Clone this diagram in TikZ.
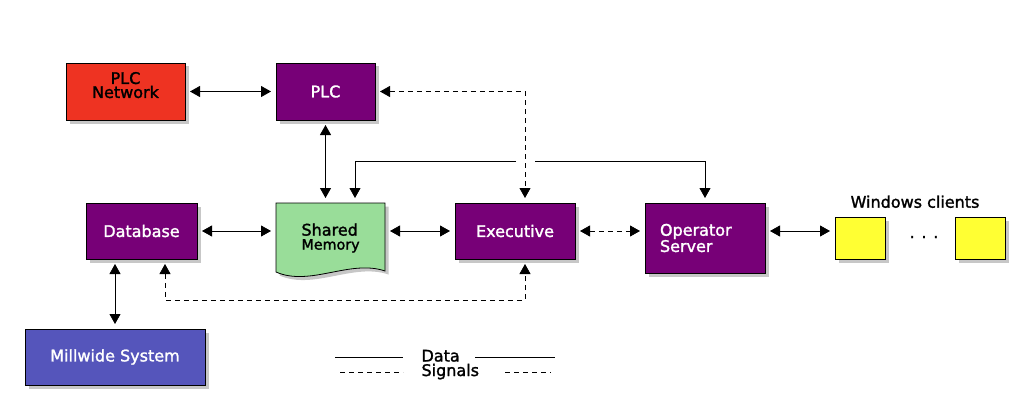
\documentclass[tikz,border=0pt]{standalone}
\usepackage{fontspec}
\setmainfont[FakeBold=1.6]{DejaVu Sans}
\usetikzlibrary{arrows.meta,shadows,calc}
\definecolor{cred}{HTML}{EE3322}
\definecolor{cpurple}{HTML}{770077}
\definecolor{cblue}{HTML}{5555BB}
\definecolor{cgreen}{HTML}{99DD99}
\definecolor{cyellow}{HTML}{FFFF33}
\begin{document}
\begin{tikzpicture}[x=1pt,y=-1pt,
  every node/.style={font=\fontsize{16}{14}\selectfont},
  shade/.style={drop shadow={shadow xshift=3.5pt,shadow yshift=-3.5pt,opacity=0.22,fill=black}},
  box/.style={draw=black,line width=0.8pt,inner sep=0pt,outer sep=0pt,shade,align=center},
  proc/.style={box,fill=cpurple,text=white},
  client/.style={box,fill=cyellow,minimum width=50pt,minimum height=42pt},
  tip/.tip={Triangle[length=10pt,width=11pt]},
  link/.style={line width=0.8pt,tip-tip,shorten <=5pt,shorten >=5pt},
  onelink/.style={line width=0.8pt,-tip,shorten >=5pt},
  sig/.style={dash pattern=on 5pt off 4pt},
  legend/.style={line width=0.8pt},
]
\useasboundingbox[fill=white] (0,0) rectangle (1030,420);

% Shared memory document shape
\def\smpath{(276,203) -- (385,203) -- (385,271) .. controls (350,259) and (310,287) .. (276,272) -- cycle}
\fill[black,opacity=0.22,shift={(3.5,3.5)}] \smpath;
\draw[line width=0.8pt,fill=cgreen] \smpath;

% nodes
\node[box,fill=cred,minimum width=119pt,minimum height=57pt,text depth=13pt] (plcnet) at (125.5,91.5) {PLC\\Network};
\node[proc,minimum width=99pt,minimum height=57pt] (plc) at (325.5,91.5) {PLC};
\node[proc,minimum width=111pt,minimum height=56pt] (db) at (141.5,231) {Database};
\node[inner sep=0pt,outer sep=0pt,minimum width=109pt,minimum height=70pt,text width=58pt,align=left] (sm) at (330.5,238) {Shared\\{\fontsize{14.3}{13}\selectfont Memory}};
\node[proc,minimum width=120pt,minimum height=56pt] (exec) at (515,231) {Executive};
\node[proc,minimum width=120pt,minimum height=70pt,text width=90pt,align=left] (os) at (705,238) {Operator\\Server};
\node[client] (w1) at (860,238) {};
\node[client] (w2) at (980,238) {};
\node[box,fill=cblue,text=white,minimum width=180pt,minimum height=56pt] (mill) at (115,357) {Millwide System};
\node[anchor=base] (wlabel) at (915,207.7) {Windows clients};
\node[anchor=base] (dots) at (924,238) {. . .};

% connectors
\draw[link] (plcnet) -- (plc);
\draw[link] (plc.south) -- (plc.south |- sm.north);
\draw[link] (db) -- (db -| sm.west);
\draw[link] (sm.east |- exec) -- (exec);
\draw[link,sig] (exec) -- (exec -| os.west);
\draw[link] (os.east |- exec) -- (w1.west |- exec);
\draw[link] ([xshift=-26.5pt]db.south) -- ([xshift=-26.5pt]db.south |- mill.north);
\draw[link,sig] ([xshift=23.5pt]db.south) -- ++(0,41) -| ([xshift=10pt]exec.south);
\draw[link,sig] (plc.east) -| ([xshift=10pt]exec.north);
\coordinate (gapL) at (516,161.5);
\coordinate (gapR) at (535,161.5);
\draw[onelink] (gapL) -| ([xshift=24.5pt]sm.north);
\draw[onelink] (gapR) -| (os.north);

% legend
\node[anchor=base west] (ldata) at (418,361.5) {Data};
\node[anchor=base west] (lsig) at (418,376) {Signals};
\draw[legend] (335,357) -- (403,357);
\draw[legend] (475,357) -- (555,357);
\draw[legend,sig] (340,372) -- (403,372);
\draw[legend,sig] (505,372) -- (551,372);
\end{tikzpicture}
\end{document}
